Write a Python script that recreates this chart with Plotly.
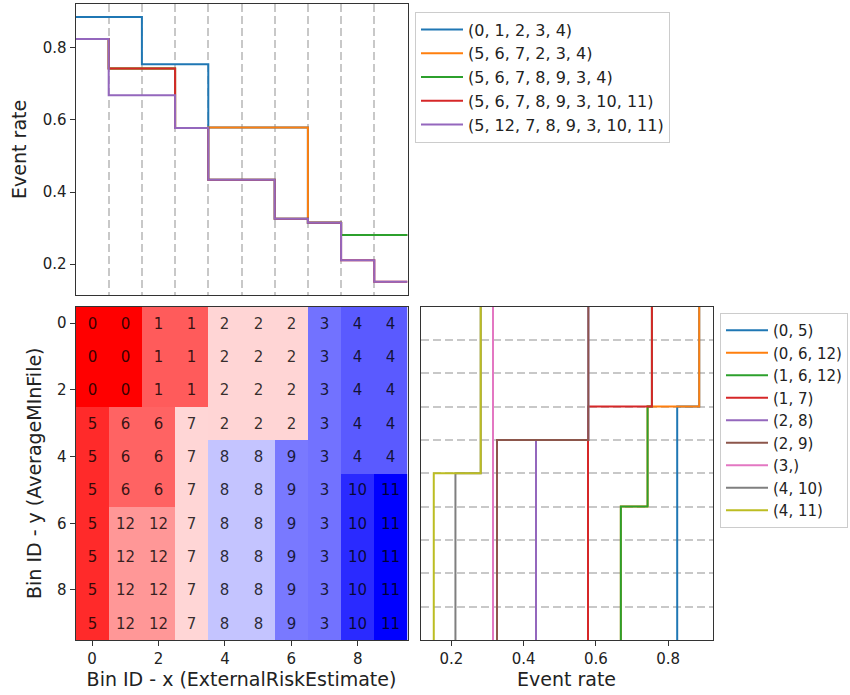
import plotly.graph_objects as go

# ---------------- data ----------------
# bucket id per cell: rows = y bin (AverageMInFile), cols = x bin (ExternalRiskEstimate)
bucket_grid = [
    [0, 0, 1, 1, 2, 2, 2, 3, 4, 4],
    [0, 0, 1, 1, 2, 2, 2, 3, 4, 4],
    [0, 0, 1, 1, 2, 2, 2, 3, 4, 4],
    [5, 6, 6, 7, 2, 2, 2, 3, 4, 4],
    [5, 6, 6, 7, 8, 8, 9, 3, 4, 4],
    [5, 6, 6, 7, 8, 8, 9, 3, 10, 11],
    [5, 12, 12, 7, 8, 8, 9, 3, 10, 11],
    [5, 12, 12, 7, 8, 8, 9, 3, 10, 11],
    [5, 12, 12, 7, 8, 8, 9, 3, 10, 11],
    [5, 12, 12, 7, 8, 8, 9, 3, 10, 11],
]
# event rate of each bucket id (index = bucket id)
bucket_rates = [0.886, 0.755, 0.579, 0.315, 0.281, 0.825, 0.743, 0.578,
                0.434, 0.326, 0.211, 0.151, 0.669]
x_bins = list(range(10))
y_bins = list(range(10))
tick_vals = [0, 2, 4, 6, 8]
rate_ticks = [0.2, 0.4, 0.6, 0.8]

colors = ["#1f77b4", "#ff7f0e", "#2ca02c", "#d62728", "#9467bd",
          "#8c564b", "#e377c2", "#7f7f7f", "#bcbd22", "#17becf"]

FONT = "DejaVu Sans"
W, H = 850, 695


def px_x(a, b):
    return [a / W, b / W]


def px_y(top, bottom):
    return [1 - bottom / H, 1 - top / H]


def unique_order(seq):
    out = []
    for s in seq:
        if s not in out:
            out.append(s)
    return out


fig = go.Figure()

# ---------------- top: event rate along x for each distinct row ----------------
row_paths = unique_order([tuple(r) for r in bucket_grid])
edges_x = [x - 0.5 for x in x_bins] + [x_bins[-1] + 0.5]
for i, path in enumerate(row_paths):
    vals = [bucket_rates[b] for b in path]
    fig.add_trace(go.Scatter(
        x=edges_x, y=vals + [vals[-1]], mode="lines", line_shape="hv",
        line=dict(color=colors[i], width=2),
        name=str(tuple(unique_order(path))),
        xaxis="x", yaxis="y", legend="legend"))

# ---------------- heatmap ----------------
z = [[bucket_rates[b] for b in row] for row in bucket_grid]
fig.add_trace(go.Heatmap(
    z=z, x=x_bins, y=y_bins, text=bucket_grid, texttemplate="%{text}",
    textfont=dict(family=FONT, size=15, color="rgba(0,0,0,0.8)"),
    colorscale=[[0, "rgb(0,0,255)"], [0.5, "rgb(255,255,255)"], [1, "rgb(255,0,0)"]],
    zmin=min(bucket_rates), zmax=max(bucket_rates), showscale=False,
    xaxis="x2", yaxis="y2", hoverinfo="skip"))

# ---------------- right: event rate along y for each distinct column ----------------
cols = [tuple(bucket_grid[y][x] for y in y_bins) for x in x_bins]
col_paths = unique_order(cols)
edges_y = [y - 0.5 for y in y_bins] + [y_bins[-1] + 0.5]
for i, path in enumerate(col_paths):
    vals = [bucket_rates[b] for b in path]
    fig.add_trace(go.Scatter(
        x=vals + [vals[-1]], y=edges_y, mode="lines", line_shape="vh",
        line=dict(color=colors[i], width=2),
        name=str(tuple(unique_order(path))),
        xaxis="x3", yaxis="y3", legend="legend2"))

lo, hi = min(bucket_rates), max(bucket_rates)
pad = (hi - lo) * 0.05
rate_range = [lo - pad, hi + pad]

axis_common = dict(showline=True, mirror=True, linecolor="#333", linewidth=1,
                   ticks="outside", ticklen=5, tickcolor="#333",
                   tickfont=dict(family=FONT, size=15, color="#222"),
                   zeroline=False)
grid_dash = dict(showgrid=True, gridcolor="#c8c8c8", gridwidth=1.5, griddash="8px,4px")
title_font = dict(family=FONT, size=19, color="#222")

fig.update_layout(
    width=W, height=H, margin=dict(l=0, r=0, t=0, b=0),
    paper_bgcolor="white", plot_bgcolor="white",
    font=dict(family=FONT, color="#222"),
    xaxis=dict(domain=px_x(75.5, 407.5), range=[-0.5, 9.5], anchor="y",
               tickvals=[x + 0.5 for x in x_bins[:-1]], showticklabels=False,
               **{**axis_common, "ticks": ""}, **grid_dash),
    yaxis=dict(domain=px_y(3.7, 295), range=rate_range, anchor="x",
               tickvals=rate_ticks, showgrid=False,
               title=dict(text="Event rate", font=title_font, standoff=10),
               **axis_common),
    xaxis2=dict(domain=px_x(75.5, 407.5), range=[-0.5, 9.5], anchor="y2",
                tickvals=tick_vals, showgrid=False,
                title=dict(text="Bin ID - x (ExternalRiskEstimate)", font=title_font, standoff=5),
                **axis_common),
    yaxis2=dict(domain=px_y(306.5, 640), range=[9.5, -0.5], anchor="x2",
                tickvals=tick_vals, showgrid=False,
                title=dict(text="Bin ID - y (AverageMInFile)", font=title_font, standoff=10),
                **axis_common),
    xaxis3=dict(domain=px_x(420.5, 712.5), range=rate_range, anchor="y3",
                tickvals=rate_ticks, showgrid=False,
                title=dict(text="Event rate", font=title_font, standoff=5),
                **axis_common),
    yaxis3=dict(domain=px_y(306.5, 640), range=[9.5, -0.5], anchor="x3",
                tickvals=[y + 0.5 for y in y_bins[:-1]], showticklabels=False,
                **{**axis_common, "ticks": ""}, **grid_dash),
    legend=dict(x=415 / W, y=1 - 11.5 / H, xanchor="left", yanchor="top",
                bordercolor="#cccccc", borderwidth=1, bgcolor="white",
                itemwidth=42,
                font=dict(family=FONT, size=16, color="#222")),
    legend2=dict(x=720 / W, y=1 - 313 / H, xanchor="left", yanchor="top",
                 bordercolor="#cccccc", borderwidth=1, bgcolor="white",
                 itemwidth=42,
                 font=dict(family=FONT, size=15, color="#222")),
)

fig.write_html("out.html")
